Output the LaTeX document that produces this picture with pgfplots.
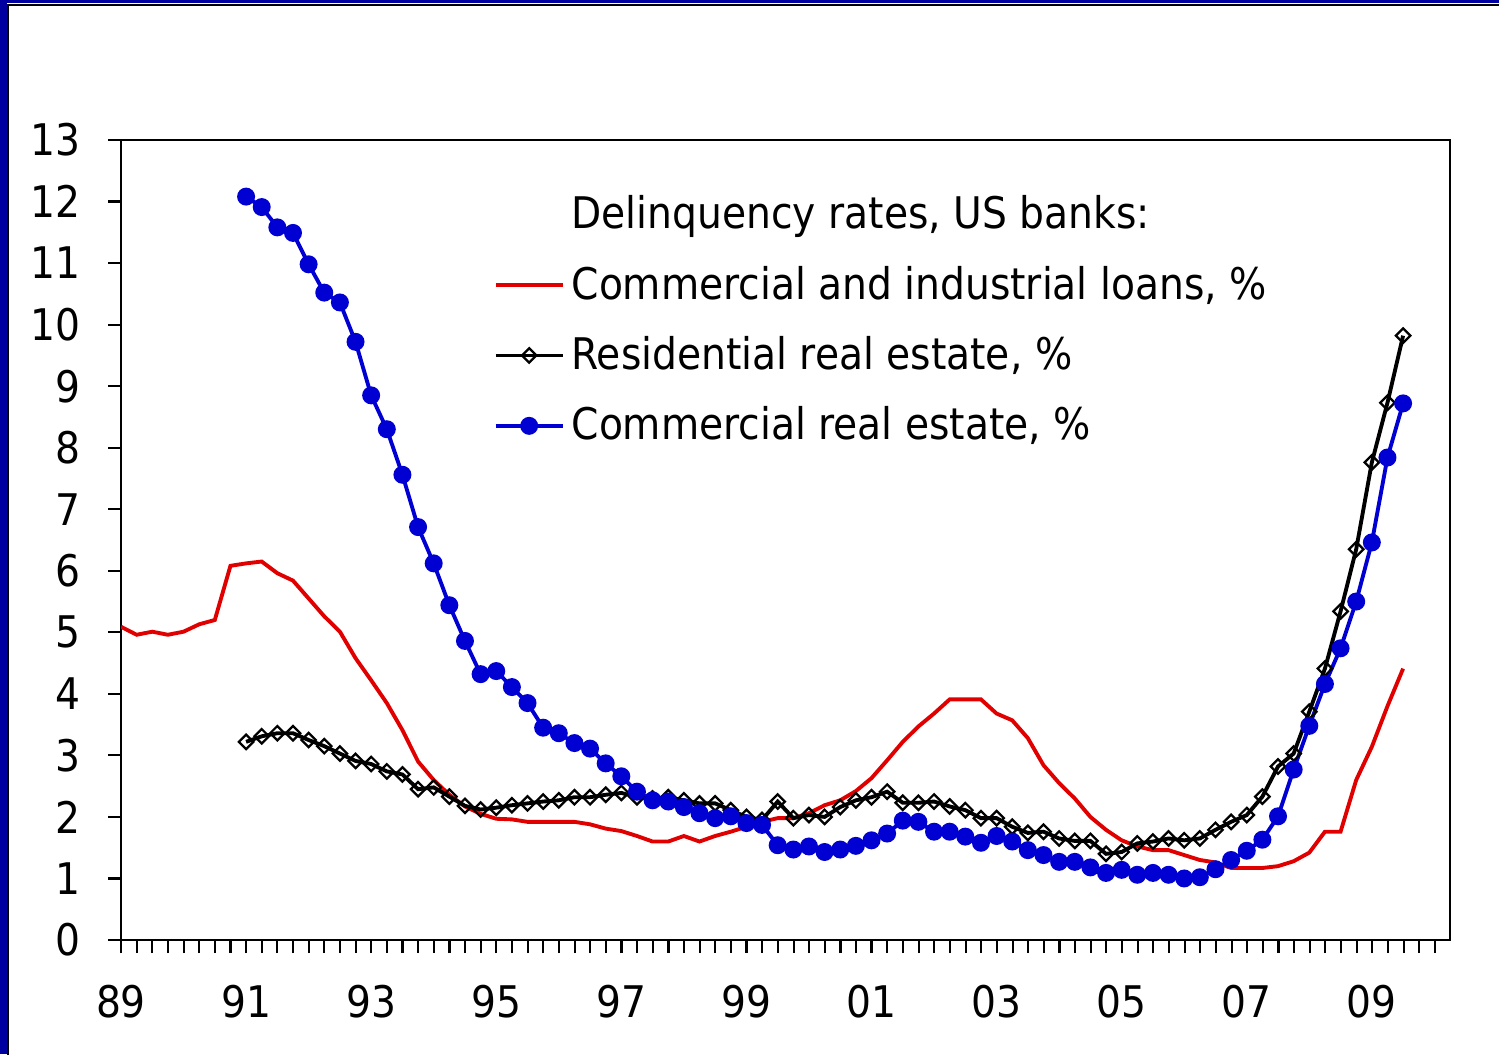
\documentclass[border=0pt]{standalone}
\usepackage{pgfplots}
\pgfplotsset{compat=1.18}
\usepackage{pgfplotstable}
\usepackage{fontspec}
\setmainfont{DejaVu Sans Condensed}

\definecolor{cilred}{RGB}{224,0,0}
\definecolor{crblue}{RGB}{0,0,210}
\definecolor{slideblue}{RGB}{0,0,160}

% quarterly delinquency rates
\pgfplotstableread{
t       v
1989.00 5.09
1989.25 4.96
1989.50 5.01
1989.75 4.96
1990.00 5.01
1990.25 5.13
1990.50 5.20
1990.75 6.08
1991.00 6.12
1991.25 6.15
1991.50 5.96
1991.75 5.84
1992.00 5.55
1992.25 5.26
1992.50 5.01
1992.75 4.58
1993.00 4.22
1993.25 3.85
1993.50 3.41
1993.75 2.90
1994.00 2.60
1994.25 2.36
1994.50 2.17
1994.75 2.05
1995.00 1.97
1995.25 1.96
1995.50 1.92
1995.75 1.92
1996.00 1.92
1996.25 1.92
1996.50 1.88
1996.75 1.81
1997.00 1.77
1997.25 1.69
1997.50 1.60
1997.75 1.60
1998.00 1.69
1998.25 1.60
1998.50 1.69
1998.75 1.76
1999.00 1.84
1999.25 1.92
1999.50 1.98
1999.75 1.98
2000.00 2.06
2000.25 2.19
2000.50 2.27
2000.75 2.42
2001.00 2.63
2001.25 2.92
2001.50 3.22
2001.75 3.47
2002.00 3.68
2002.25 3.91
2002.50 3.91
2002.75 3.91
2003.00 3.68
2003.25 3.57
2003.50 3.28
2003.75 2.84
2004.00 2.55
2004.25 2.30
2004.50 2.00
2004.75 1.79
2005.00 1.62
2005.25 1.52
2005.50 1.46
2005.75 1.46
2006.00 1.38
2006.25 1.30
2006.50 1.26
2006.75 1.17
2007.00 1.17
2007.25 1.17
2007.50 1.20
2007.75 1.28
2008.00 1.42
2008.25 1.76
2008.50 1.76
2008.75 2.60
2009.00 3.14
2009.25 3.80
2009.50 4.41
}\cildata

\pgfplotstableread{
t       v
1991.00 3.22
1991.25 3.31
1991.50 3.36
1991.75 3.36
1992.00 3.25
1992.25 3.15
1992.50 3.03
1992.75 2.91
1993.00 2.86
1993.25 2.74
1993.50 2.69
1993.75 2.45
1994.00 2.48
1994.25 2.33
1994.50 2.18
1994.75 2.12
1995.00 2.15
1995.25 2.19
1995.50 2.22
1995.75 2.25
1996.00 2.27
1996.25 2.32
1996.50 2.32
1996.75 2.36
1997.00 2.39
1997.25 2.32
1997.50 2.30
1997.75 2.32
1998.00 2.27
1998.25 2.22
1998.50 2.22
1998.75 2.11
1999.00 2.00
1999.25 1.95
1999.50 2.25
1999.75 1.98
2000.00 2.03
2000.25 2.00
2000.50 2.16
2000.75 2.27
2001.00 2.32
2001.25 2.41
2001.50 2.23
2001.75 2.23
2002.00 2.25
2002.25 2.17
2002.50 2.11
2002.75 1.98
2003.00 1.98
2003.25 1.84
2003.50 1.74
2003.75 1.76
2004.00 1.65
2004.25 1.61
2004.50 1.61
2004.75 1.40
2005.00 1.43
2005.25 1.57
2005.50 1.60
2005.75 1.65
2006.00 1.62
2006.25 1.65
2006.50 1.79
2006.75 1.92
2007.00 2.03
2007.25 2.33
2007.50 2.82
2007.75 3.03
2008.00 3.71
2008.25 4.41
2008.50 5.34
2008.75 6.35
2009.00 7.76
2009.25 8.73
2009.50 9.82
}\resdata

\pgfplotstableread{
t       v
1991.00 12.08
1991.25 11.91
1991.50 11.58
1991.75 11.49
1992.00 10.98
1992.25 10.52
1992.50 10.36
1992.75 9.72
1993.00 8.85
1993.25 8.30
1993.50 7.56
1993.75 6.71
1994.00 6.12
1994.25 5.44
1994.50 4.86
1994.75 4.32
1995.00 4.37
1995.25 4.11
1995.50 3.85
1995.75 3.45
1996.00 3.36
1996.25 3.20
1996.50 3.11
1996.75 2.87
1997.00 2.66
1997.25 2.41
1997.50 2.27
1997.75 2.25
1998.00 2.16
1998.25 2.06
1998.50 1.98
1998.75 2.01
1999.00 1.90
1999.25 1.87
1999.50 1.54
1999.75 1.47
2000.00 1.52
2000.25 1.43
2000.50 1.47
2000.75 1.53
2001.00 1.62
2001.25 1.73
2001.50 1.94
2001.75 1.92
2002.00 1.76
2002.25 1.76
2002.50 1.68
2002.75 1.58
2003.00 1.69
2003.25 1.60
2003.50 1.46
2003.75 1.38
2004.00 1.27
2004.25 1.27
2004.50 1.18
2004.75 1.09
2005.00 1.14
2005.25 1.06
2005.50 1.09
2005.75 1.06
2006.00 1.00
2006.25 1.02
2006.50 1.15
2006.75 1.30
2007.00 1.45
2007.25 1.63
2007.50 2.01
2007.75 2.77
2008.00 3.48
2008.25 4.16
2008.50 4.74
2008.75 5.50
2009.00 6.46
2009.25 7.84
2009.50 8.72
}\credata

\begin{document}
\begin{tikzpicture}
\useasboundingbox (0,0) rectangle (14.99,10.54);
% slide frame, only its top and left edges show
\begin{scope}
\clip (0,0) rectangle (14.99,10.54);
\fill[slideblue] (0,0) rectangle (0.07,10.54);
\fill[slideblue] (0,10.51) rectangle (14.99,10.54);
\draw[black, line width=0.6pt] (0.08,-1) -- (0.08,10.49) -- (16,10.49);
\end{scope}

\begin{axis}[
  at={(1.21cm,1.14cm)}, anchor=south west,
  scale only axis, width=13.29cm, height=8.0cm,
  xmin=1989, xmax=2010.25, ymin=0, ymax=13,
  ytick={0,1,...,13},
  xtick={1989,1991,...,2009},
  xticklabels={89,91,93,95,97,99,01,03,05,07,09},
  minor xtick={1989,1989.25,...,2010.25},
  xtick pos=left, ytick pos=left,
  tick align=outside,
  major tick length=0.13cm, minor tick length=0.13cm,
  tick style={black, line width=0.6pt},
  axis line style={line width=0.6pt},
  /pgf/number format/assume math mode=true,
  tick label style={font=\fontsize{12.4}{14}\selectfont},
  xticklabel style={yshift=-0.2cm},
  yticklabel style={xshift=-0.15cm},
  legend cell align=left,
  legend style={at={(0.272,0.949)}, anchor=north west, draw=none, fill=none,
    font=\fontsize{12.4}{14}\selectfont, row sep=5.1pt},
  legend image code/.code={\draw[mark repeat=2,mark phase=2,#1]
    plot coordinates {(0cm,0cm) (0.335cm,0cm) (0.67cm,0cm)};},
]
\addlegendimage{empty legend}
\addlegendentry{Delinquency rates, US banks:\rule[-4.2pt]{0pt}{1pt}}

\addplot[cilred, line width=1.1pt, no markers] table[x=t, y=v] {\cildata};
\addlegendentry{Commercial and industrial loans, \%}

\addplot[black, line width=1.1pt, mark=square, mark size=1.45pt,
  mark options={rotate=45, line width=0.65pt, solid}] table[x=t, y=v] {\resdata};
\addlegendentry{Residential real estate, \%}

\addplot[crblue, line width=1.1pt, mark=*, mark size=2pt,
  mark options={fill=crblue, draw=crblue}] table[x=t, y=v] {\credata};
\addlegendentry{Commercial real estate, \%}
\end{axis}
\end{tikzpicture}
\end{document}
